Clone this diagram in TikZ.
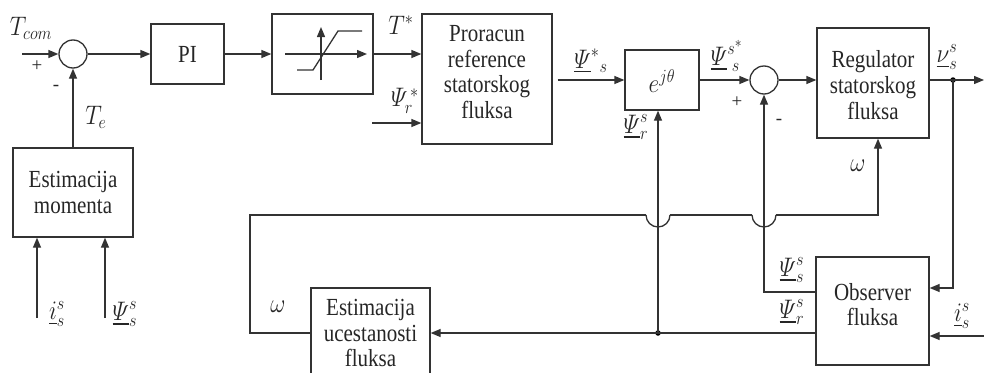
\documentclass[tikz,border=0pt]{standalone}
\usepackage{fontspec}
\setmainfont{Liberation Serif}
\usepackage{amsmath}
\usetikzlibrary{arrows.meta}
\tikzset{
  blk/.style={draw, line width=1.3pt, inner sep=0pt},
  sumc/.style={draw, circle, line width=1.3pt, minimum size=28pt, inner sep=0pt},
  arr/.style={-{Triangle[length=10pt,width=8pt]}},
  txt/.style={inner sep=0pt, align=center, yscale=1.17, transform shape, font=\fontsize{21}{22}\selectfont},
  lbl/.style={inner sep=0pt, xscale=1.35, yscale=1.55, transform shape, font=\fontsize{17.28}{20}\selectfont},
  sgn/.style={inner sep=0pt, font=\fontsize{19}{22}\selectfont},
  jdot/.style={circle, fill, inner sep=0pt, minimum size=5.5pt},
}
\begin{document}
\begin{tikzpicture}[x=1pt, y=-1pt, line width=1.3pt, draw=black!80, text=black!85]
\useasboundingbox (0,0) rectangle (984,372);
% blocks
\node[sumc] (s1) at (73,54) {};
\node[blk, minimum width=73pt, minimum height=60pt] (pi) at (187.5,54) {};
\node[txt] (pit) at (187.5,54) {PI};
\node[blk, minimum width=101pt, minimum height=80pt] (sat) at (322.5,54) {};
\node[blk, minimum width=130pt, minimum height=130pt] (pr) at (487,79) {};
\node[txt] (prt) at (487,72) {Proracun\\reference\\statorskog\\fluksa};
\node[blk, minimum width=74pt, minimum height=60pt] (ej) at (662,80) {};
\node[lbl] (ejt) at (662,81) {$e^{j\theta}$};
\node[sumc] (s2) at (764,80) {};
\node[blk, minimum width=112pt, minimum height=110pt] (reg) at (873,83) {};
\node[txt] (regt) at (873,85) {Regulator\\statorskog\\fluksa};
\node[blk, minimum width=120pt, minimum height=89pt] (em) at (73,192.5) {};
\node[txt] (emt) at (73,192.5) {Estimacija\\momenta};
\node[blk, minimum width=119pt, minimum height=90pt] (eu) at (370.5,333) {};
\node[txt] (eut) at (370.5,333) {Estimacija\\ucestanosti\\fluksa};
\node[blk, minimum width=113pt, minimum height=108pt] (ob) at (872.5,311) {};
\node[txt] (obt) at (872.5,304.5) {Observer\\fluksa};
% saturation symbol
\draw[arr] (285,54) -- (367,54);
\draw[arr] (321,80) -- (321,27);
\draw (297,70) -- (313,70) -- (338,31) -- (362,31);
% junction dots
\node[jdot] (d1) at (953,80) {};
\node[jdot] (d2) at (658,333) {};
% coordinates
\coordinate (tin) at (22,54);
\coordinate (psir) at (372,123);
\coordinate (out) at (984,80);
\coordinate (r1) at (953,288);
\coordinate (iin) at (984,336);
\coordinate (c1) at (764,292);
\coordinate (w1) at (250,333);
\coordinate (w2) at (250,215);
\coordinate (w3) at (878,215);
\coordinate (h1a) at (646,215);
\coordinate (h1b) at (670,215);
\coordinate (h2a) at (752,215);
\coordinate (h2b) at (776,215);
\coordinate (ei1) at (37,318);
\coordinate (ei2) at (105,318);
% connectors
\draw[arr] (tin) -- (s1);
\draw[arr] (s1) -- (pi);
\draw[arr] (pi) -- (sat);
\draw[arr] (sat.east) -- (pr.west |- sat.east);
\draw[arr] (psir) -- (pr.west |- psir);
\draw[arr, shorten <=5pt] (pr.east |- ej.west) -- (ej.west);
\draw[arr] (ej) -- (s2);
\draw[arr] (s2) -- (reg.west |- s2);
\draw[arr] (reg.east |- s2) -- (out);
\draw[arr] (d1.center) -- (r1) -- (ob.east |- r1);
\draw[arr] (iin) -- (ob.east |- iin);
\draw[arr] (ob.west |- c1) -- (c1) -- (s2.south);
\draw (ob.west |- d2) -- (d2.center);
\draw[arr] (d2.center) -- (ej.south -| d2);
\draw[arr] (d2.center) -- (eu.east |- d2);
% omega loop with hops
\draw (eu.west |- w1) -- (w1) -- (w2) -- (h1a);
\draw (h1a) arc[start angle=180, end angle=360, radius=12pt];
\draw (h1b) -- (h2a);
\draw (h2a) arc[start angle=180, end angle=360, radius=12pt];
\draw[arr] (h2b) -- (w3) -- (reg.south -| w3);
\draw[arr] (em.north) -- (s1.south);
\draw[arr] (ei1) -- (em.south -| ei1);
\draw[arr] (ei2) -- (em.south -| ei2);
% labels
\node[lbl] (lTcom) at (31,28) {$T_{com}$};
\node[sgn] (lp1) at (37,66) {+};
\node[sgn] (lm1) at (56,88) {-};
\node[lbl] (lTe) at (96,117) {$T_e$};
\node[lbl] (lTs) at (401,25) {$T^{*}$};
\node[lbl] (lpr) at (405,101) {$\varPsi_r^{\,*}$};
\node[lbl] (lps) at (591,61) {$\underline{\varPsi}^{*}{}_{s}$};
\node[lbl] (lpsr1) at (636,127) {$\underline{\varPsi}^{s}_{r}$};
\node[lbl] (lpss) at (727,56) {$\underline{\varPsi}^{s^{*}}_{\;s}$};
\node[sgn] (lp2) at (737,102) {+};
\node[sgn] (lm2) at (779,122) {-};
\node[lbl] (lnu) at (947,57) {$\underline{\nu}^{s}_{s}$};
\node[lbl] (lw1) at (858,166) {$\omega$};
\node[lbl] (lw2) at (278,307) {$\omega$};
\node[lbl] (lis1) at (57,314) {$\underline{i}^{s}_{s}$};
\node[lbl] (lps1) at (125,314) {$\underline{\varPsi}^{s}_{s}$};
\node[lbl] (lps2) at (792,270) {$\underline{\varPsi}^{s}_{s}$};
\node[lbl] (lpr2) at (792,312) {$\underline{\varPsi}^{s}_{r}$};
\node[lbl] (lis2) at (962,316) {$\underline{i}^{s}_{s}$};
\end{tikzpicture}
\end{document}
